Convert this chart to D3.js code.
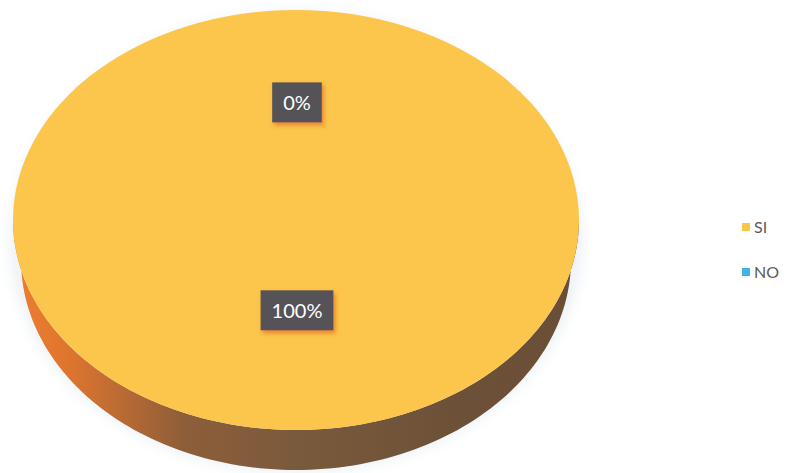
<!DOCTYPE html>
<html>
<head>
<meta charset="utf-8">
<script src="https://cdn.jsdelivr.net/npm/d3@7"></script>
<style>
  html, body { margin: 0; padding: 0; background: #ffffff; }
  svg { display: block; }
</style>
</head>
<body>
<svg id="chart" width="793" height="473"></svg>
<script>
// ---- data ----
const categories = ["SI", "NO"];
const values = [100, 0];
const labels = ["100%", "0%"];
const topColors = ["#FCC54B", "#3CB4E5"];
const sideColors = ["#E47A2E", "#2A86B0"];

// ---- layout ----
const W = 793, H = 473;
const cx = 296, cy = 220, rx = 283, ry = 210, depth = 40, rxBottom = 275;
const svg = d3.select("#chart");
const defs = svg.append("defs");

// side gradient (orange on the left to brown on the right)
const grad = defs.append("linearGradient").attr("id", "sideGrad")
  .attr("gradientUnits", "userSpaceOnUse")
  .attr("x1", cx - rx).attr("y1", 0).attr("x2", cx + rx).attr("y2", 0);
[[0, "#EE7E2E"], [0.1, "#DE752F"], [0.3, "#8E5E39"], [0.5, "#7A5A3C"], [0.8, "#6C5037"], [1, "#6A4E36"]]
  .forEach(([o, c]) => grad.append("stop").attr("offset", o).attr("stop-color", c));

// soft halo
const halo = defs.append("filter").attr("id", "halo").attr("x", "-10%").attr("y", "-10%").attr("width", "120%").attr("height", "120%");
halo.append("feGaussianBlur").attr("stdDeviation", 6);

// label shadow
const ls = defs.append("filter").attr("id", "lblShadow").attr("x", "-30%").attr("y", "-30%").attr("width", "160%").attr("height", "160%");
ls.append("feDropShadow").attr("dx", 2).attr("dy", 3).attr("stdDeviation", 2)
  .attr("flood-color", "#E0762A").attr("flood-opacity", 0.8);

const pie = d3.pie().sort(null).value(d => d)(values);

// projection of pie angle (0 = top, clockwise) onto the ellipse
const px = (a, r) => cx + r * Math.sin(a);
const py = (a, dy = 0) => cy - ry * Math.cos(a) + dy;

// halo behind pie
svg.append("ellipse").attr("cx", cx).attr("cy", cy + depth / 2 + 2)
  .attr("rx", rx + 4).attr("ry", ry + depth / 2 + 2)
  .attr("fill", "#DCE4EC").attr("opacity", 0.45).attr("filter", "url(#halo)");

// side walls (front half only: angles between PI/2 and 3PI/2)
const sideG = svg.append("g");
pie.forEach((p, i) => {
  const a0 = Math.max(p.startAngle, Math.PI / 2);
  const a1 = Math.min(p.endAngle, 3 * Math.PI / 2);
  if (a1 <= a0) return;
  const steps = d3.range(0, 121).map(k => a0 + (a1 - a0) * k / 120);
  const topPts = steps.map(a => [px(a, rx), py(a)]);
  const botPts = steps.slice().reverse().map(a => [px(a, rxBottom), py(a, depth)]);
  const path = d3.line()(topPts.concat(botPts)) + "Z";
  sideG.append("path").attr("d", path)
    .attr("fill", i === 0 ? "url(#sideGrad)" : sideColors[i]);
});

// top face via d3.arc squashed into an ellipse
const arc = d3.arc().innerRadius(0).outerRadius(rx);
svg.append("g")
  .attr("transform", `translate(${cx},${cy}) scale(1,${ry / rx})`)
  .selectAll("path").data(pie).join("path")
  .attr("d", arc)
  .attr("fill", (d, i) => topColors[i]);

// data labels
const labelRadius = [0.43, 0.56];
const lg = svg.append("g").attr("font-family", "Lato, 'Open Sans', sans-serif")
  .attr("font-size", 20).attr("fill", "#ffffff");
pie.forEach((p, i) => {
  const mid = (p.startAngle + p.endAngle) / 2;
  const x = cx + labelRadius[i] * rx * Math.sin(mid) + 1;
  const y = cy - labelRadius[i] * ry * Math.cos(mid);
  const g = lg.append("g").attr("transform", `translate(${x},${y})`);
  const t = g.append("text").attr("text-anchor", "middle").attr("dy", "0.36em").text(labels[i]);
  const bb = t.node().getBBox();
  g.insert("rect", "text")
    .attr("x", bb.x - 11).attr("y", -20).attr("width", bb.width + 22).attr("height", 40)
    .attr("fill", "#545358").attr("filter", "url(#lblShadow)");
});

// legend
const leg = svg.append("g").attr("font-family", "Lato, 'Open Sans', sans-serif")
  .attr("font-size", 16).attr("fill", "#595959");
categories.forEach((c, i) => {
  const y = 227 + i * 45;
  leg.append("rect").attr("x", 742).attr("y", y - 4).attr("width", 8).attr("height", 8)
    .attr("fill", topColors[i]);
  leg.append("text").attr("x", 754).attr("y", y).attr("dy", "0.35em").text(c);
});
</script>
</body>
</html>
